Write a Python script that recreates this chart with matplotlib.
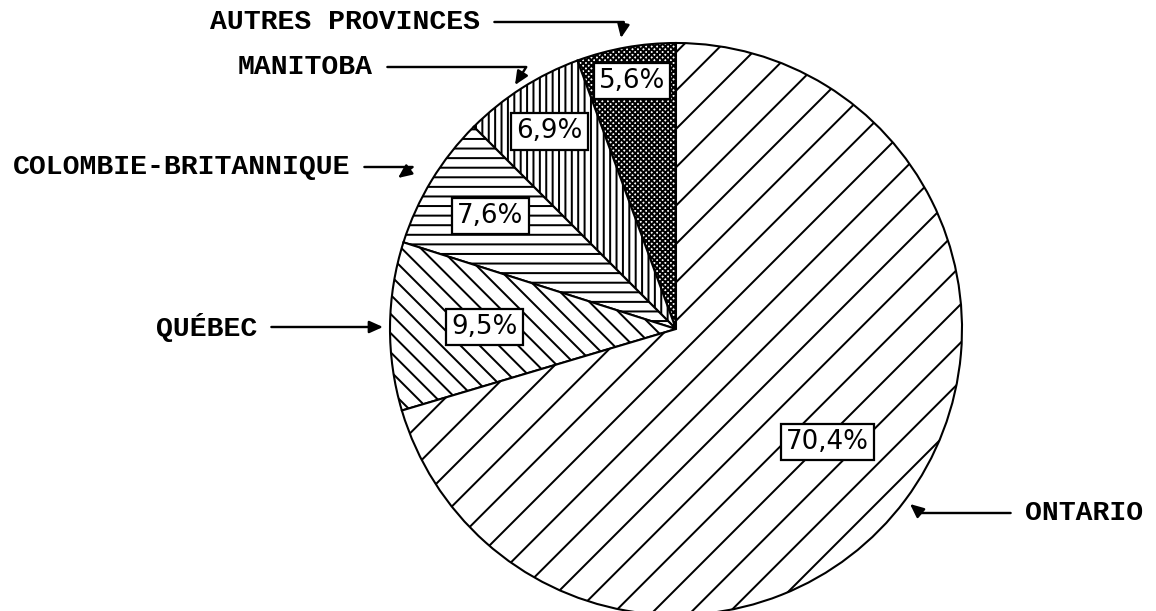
import matplotlib.pyplot as plt
import numpy as np

# part de chaque province (%)
provinces = ['AUTRES PROVINCES', 'MANITOBA', 'COLOMBIE-BRITANNIQUE', 'QUÉBEC', 'ONTARIO']
shares = [5.6, 6.9, 7.6, 9.5, 70.4]
share_labels = ['5,6%', '6,9%', '7,6%', '9,5%', '70,4%']

BS = chr(92)  # barre oblique inverse
hatches = ['xxxxxxx', '|||', '--', BS * 2, '/']
label_dist = [0.88, 0.82, 0.76, 0.67, 0.66]

W, H = 1156, 611
DPI = 115
plt.rcParams['hatch.linewidth'] = 1.25
fig = plt.figure(figsize=(W / DPI, H / DPI), dpi=DPI)
ax = fig.add_axes([0, 0, 1, 1])

cx, cy, R = 676, H - 329, 286
wedges, _ = ax.pie(shares, startangle=90, counterclock=True, center=(cx, cy), radius=R,
                   colors=['white'] * len(shares),
                   wedgeprops=dict(edgecolor='black', linewidth=1.3))
for w, h in zip(wedges, hatches):
    w.set_hatch(h)

ax.set_xlim(0, W)
ax.set_ylim(0, H)
ax.set_aspect('equal')
ax.axis('off')

# boites de pourcentage
for w, lab, d in zip(wedges, share_labels, label_dist):
    ang = np.deg2rad((w.theta1 + w.theta2) / 2)
    x = cx + d * R * np.cos(ang)
    y = cy + d * R * np.sin(ang)
    ax.text(x, y, lab, ha='center', va='center', fontsize=16.4, family='DejaVu Sans',
            bbox=dict(boxstyle='square,pad=0.2', fc='white', ec='black', lw=1.4), zorder=5)

# etiquettes avec fleches (coord. pixels, y depuis le haut)
callouts = {
    'AUTRES PROVINCES': ((480, 22), (621, 38), 80, 'right'),
    'MANITOBA': ((373, 67), (515, 85), 58, 'right'),
    'COLOMBIE-BRITANNIQUE': ((350, 167), (398, 178), 37, 'right'),
    'QUÉBEC': ((257, 327), (383, 327), None, 'right'),
    'ONTARIO': ((1025, 513), (910, 504), -40, 'left'),
}
for name in provinces:
    (tx, ty), (px, py), angB, ha = callouts[name]
    rel = (1, 0.5) if ha == 'right' else (0, 0.5)
    conn = 'arc3' if angB is None else f'angle,angleA=0,angleB={angB},rad=0'
    ax.annotate(name, xy=(px, H - py), xytext=(tx, H - ty), ha=ha, va='center',
                fontsize=17.6, family='Liberation Mono', weight='bold',
                arrowprops=dict(arrowstyle='-|>,head_length=0.4,head_width=0.18',
                                connectionstyle=conn,
                                relpos=rel, shrinkA=7, shrinkB=0, lw=1.5, color='black'))

fig.savefig('out.png', dpi=DPI)
